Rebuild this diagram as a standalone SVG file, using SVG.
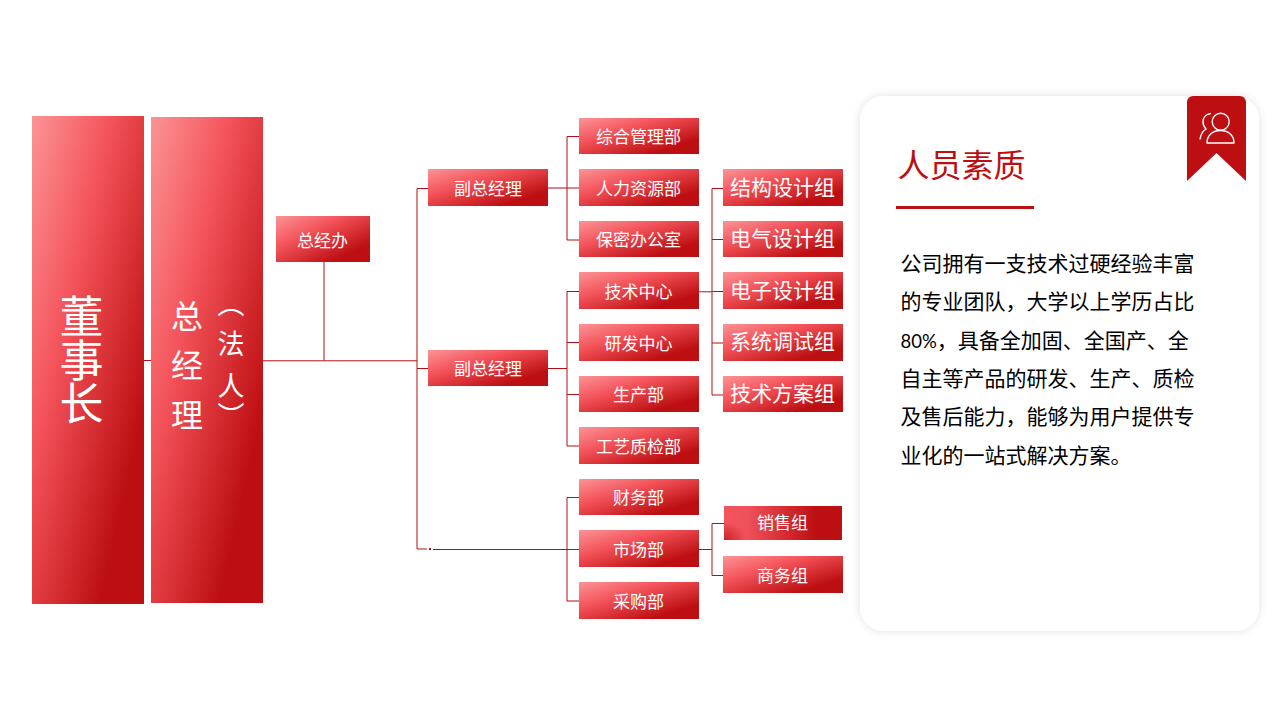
<svg xmlns="http://www.w3.org/2000/svg" width="1280" height="720" viewBox="0 0 1280 720">
<style>
text{font-family:"Noto Sans CJK SC","Liberation Sans",sans-serif;fill:#fff;text-anchor:middle}
.n{fill:url(#g)}
.t{font-size:17px}
.b{font-size:21px}
.w{fill:none;stroke:#b30f13;stroke-width:1}
.body{font-size:21px;fill:#000;text-anchor:start}
</style>
<defs>
<linearGradient id="g" x1="0" y1="0" x2="1" y2="1"><stop offset="0" stop-color="#fb9496"/><stop offset=".35" stop-color="#f4545b"/><stop offset=".8" stop-color="#bd0f12"/><stop offset="1" stop-color="#bd0f12"/></linearGradient>
<linearGradient id="g2" x1="0" y1="0" x2="1" y2="0"><stop offset="0" stop-color="#f4545b"/><stop offset=".2" stop-color="#f0505a"/><stop offset=".78" stop-color="#bd0f12"/><stop offset="1" stop-color="#bd0f12"/></linearGradient>
<radialGradient id="g3" cx="0" cy="1" r="1"><stop offset="0" stop-color="#bd0f12" stop-opacity=".75"/><stop offset="1" stop-color="#bd0f12" stop-opacity="0"/></radialGradient>
<filter id="s" x="-10%" y="-10%" width="120%" height="120%"><feDropShadow dx="0" dy="0" stdDeviation="5" flood-color="#000" flood-opacity=".12"/></filter>
</defs>
<g id="connectors" class="w">
<path d="M144 360.500H151M263 360.800H417M324 262V360.500M417 188.500V549M417 188.500H428M417 368.500H428M417 549H427M433 549.500H579"/>
<rect x="429" y="548" width="2" height="2" fill="#bd0f12" stroke="none"/>
<path d="M548 188H579M567 136.500V240M567 136.500H579M567 240H579"/>
<path d="M548 368.500H567M567 291.500V446M567 291.500H579M567 342.500H579M567 394.500H579M567 446H579"/>
<path d="M567 497.500V601M567 497.500H579M567 601H579"/>
<path d="M699 291.800H712M712 291.500H723M712 188.500V395M712 188.500H723M712 239.500H723M712 343H723M712 395H723"/>
<path d="M699 549.500H712M712 523.500V575.500M712 523.500H724M712 575.500H723"/>
</g>
<g id="n-dongshizhang"><rect class="n" x="32" y="116" width="112" height="488"/>
<text x="81.500" y="294 338 381" font-size="44" style="writing-mode:vertical-rl;text-anchor:start">董事长</text></g>
<g id="n-zongjingli"><rect class="n" x="151" y="117" width="112" height="486"/>
<text x="187" y="328" font-size="32">总</text><text x="187" y="377" font-size="32">经</text><text x="187" y="427" font-size="32">理</text>
<text x="231" y="290 330 372 402" font-size="27" style="writing-mode:vertical-rl;text-anchor:start">（法人）</text></g>
<g id="n-zongjingban"><rect class="n" x="276" y="216" width="94" height="46"/><text class="t" x="322.500" y="247">总经办</text></g>
<g id="n-fu1"><rect class="n" x="428" y="169" width="120" height="37"/><text class="t" x="488" y="195">副总经理</text></g>
<g id="n-fu2"><rect class="n" x="428" y="350" width="120" height="36"/><text class="t" x="488" y="375">副总经理</text></g>
<g id="n-zonghe"><rect class="n" x="579" y="118" width="120" height="36"/><text class="t" x="638.500" y="143">综合管理部</text></g>
<g id="n-renli"><rect class="n" x="579" y="169" width="120" height="37"/><text class="t" x="638.500" y="195">人力资源部</text></g>
<g id="n-baomi"><rect class="n" x="579" y="221" width="120" height="36"/><text class="t" x="638.500" y="246">保密办公室</text></g>
<g id="n-jishu"><rect class="n" x="579" y="272" width="120" height="37"/><text class="t" x="638.500" y="298">技术中心</text></g>
<g id="n-yanfa"><rect class="n" x="579" y="324" width="120" height="37"/><text class="t" x="638.500" y="350">研发中心</text></g>
<g id="n-shengchan"><rect class="n" x="579" y="376" width="120" height="36"/><text class="t" x="638.500" y="401">生产部</text></g>
<g id="n-gongyi"><rect class="n" x="579" y="427" width="120" height="37"/><text class="t" x="638.500" y="453">工艺质检部</text></g>
<g id="n-caiwu"><rect class="n" x="579" y="479" width="120" height="36"/><text class="t" x="638.500" y="504">财务部</text></g>
<g id="n-shichang"><rect class="n" x="579" y="530" width="120" height="37"/><text class="t" x="638.500" y="556">市场部</text></g>
<g id="n-caigou"><rect class="n" x="579" y="582" width="120" height="37"/><text class="t" x="638.500" y="608">采购部</text></g>
<g id="n-jiegou"><rect class="n" x="723" y="169" width="120" height="37"/><text class="b" x="782.500" y="195">结构设计组</text></g>
<g id="n-dianqi"><rect class="n" x="723" y="221" width="120" height="36"/><text class="b" x="782.500" y="246">电气设计组</text></g>
<g id="n-dianzi"><rect class="n" x="723" y="272" width="120" height="37"/><text class="b" x="782.500" y="298">电子设计组</text></g>
<g id="n-xitong"><rect class="n" x="723" y="324" width="120" height="37"/><text class="b" x="782.500" y="349">系统调试组</text></g>
<g id="n-fangan"><rect class="n" x="723" y="376" width="120" height="36"/><text class="b" x="782.500" y="401">技术方案组</text></g>
<g id="n-xiaoshou"><rect fill="url(#g2)" x="724" y="506" width="118" height="34"/><rect x="724" y="522" width="22" height="18" fill="url(#g3)"/><text class="t" x="782.500" y="529">销售组</text></g>
<g id="n-shangwu"><rect class="n" x="723" y="556" width="120" height="37"/><text class="t" x="782.500" y="582">商务组</text></g>
<g id="card">
<rect x="860" y="96" width="399" height="535" rx="24" fill="#fff" filter="url(#s)"/>
<path d="M1187 102a6 6 0 0 1 6-6h47a6 6 0 0 1 6 6V181L1216.500 153L1187 181Z" fill="#bd0f12"/>
<g fill="none" stroke="#fff" stroke-width="1.400">
<circle cx="1220.700" cy="121.700" r="8.500"/>
<path d="M1207 143C1207 135 1213 130.500 1220.500 130.500C1228 130.500 1234 135 1234 143Z" stroke-linejoin="round"/>
<path d="M1211 113.500c-5 .5-8 4-8 8.500 0 3 1 5 3 7-3 2-5.500 6-6 10.500"/>
</g>
<text x="961.500" y="177" font-size="32" style="fill:#bd0f12">人员素质</text>
<rect x="896" y="206" width="138" height="3" fill="#bd0f12"/>
<text class="body" x="900.500" y="271">公司拥有一支技术过硬经验丰富</text>
<text class="body" x="900.500" y="309">的专业团队，大学以上学历占比</text>
<text class="body" x="900.500" y="348"><tspan style="font-family:Lato,'Liberation Sans',sans-serif;font-size:18.500px">80%</tspan>，具备全加固、全国产、全</text>
<text class="body" x="900.500" y="386">自主等产品的研发、生产、质检</text>
<text class="body" x="900.500" y="424">及售后能力，能够为用户提供专</text>
<text class="body" x="900.500" y="463">业化的一站式解决方案。</text>
</g>
</svg>
